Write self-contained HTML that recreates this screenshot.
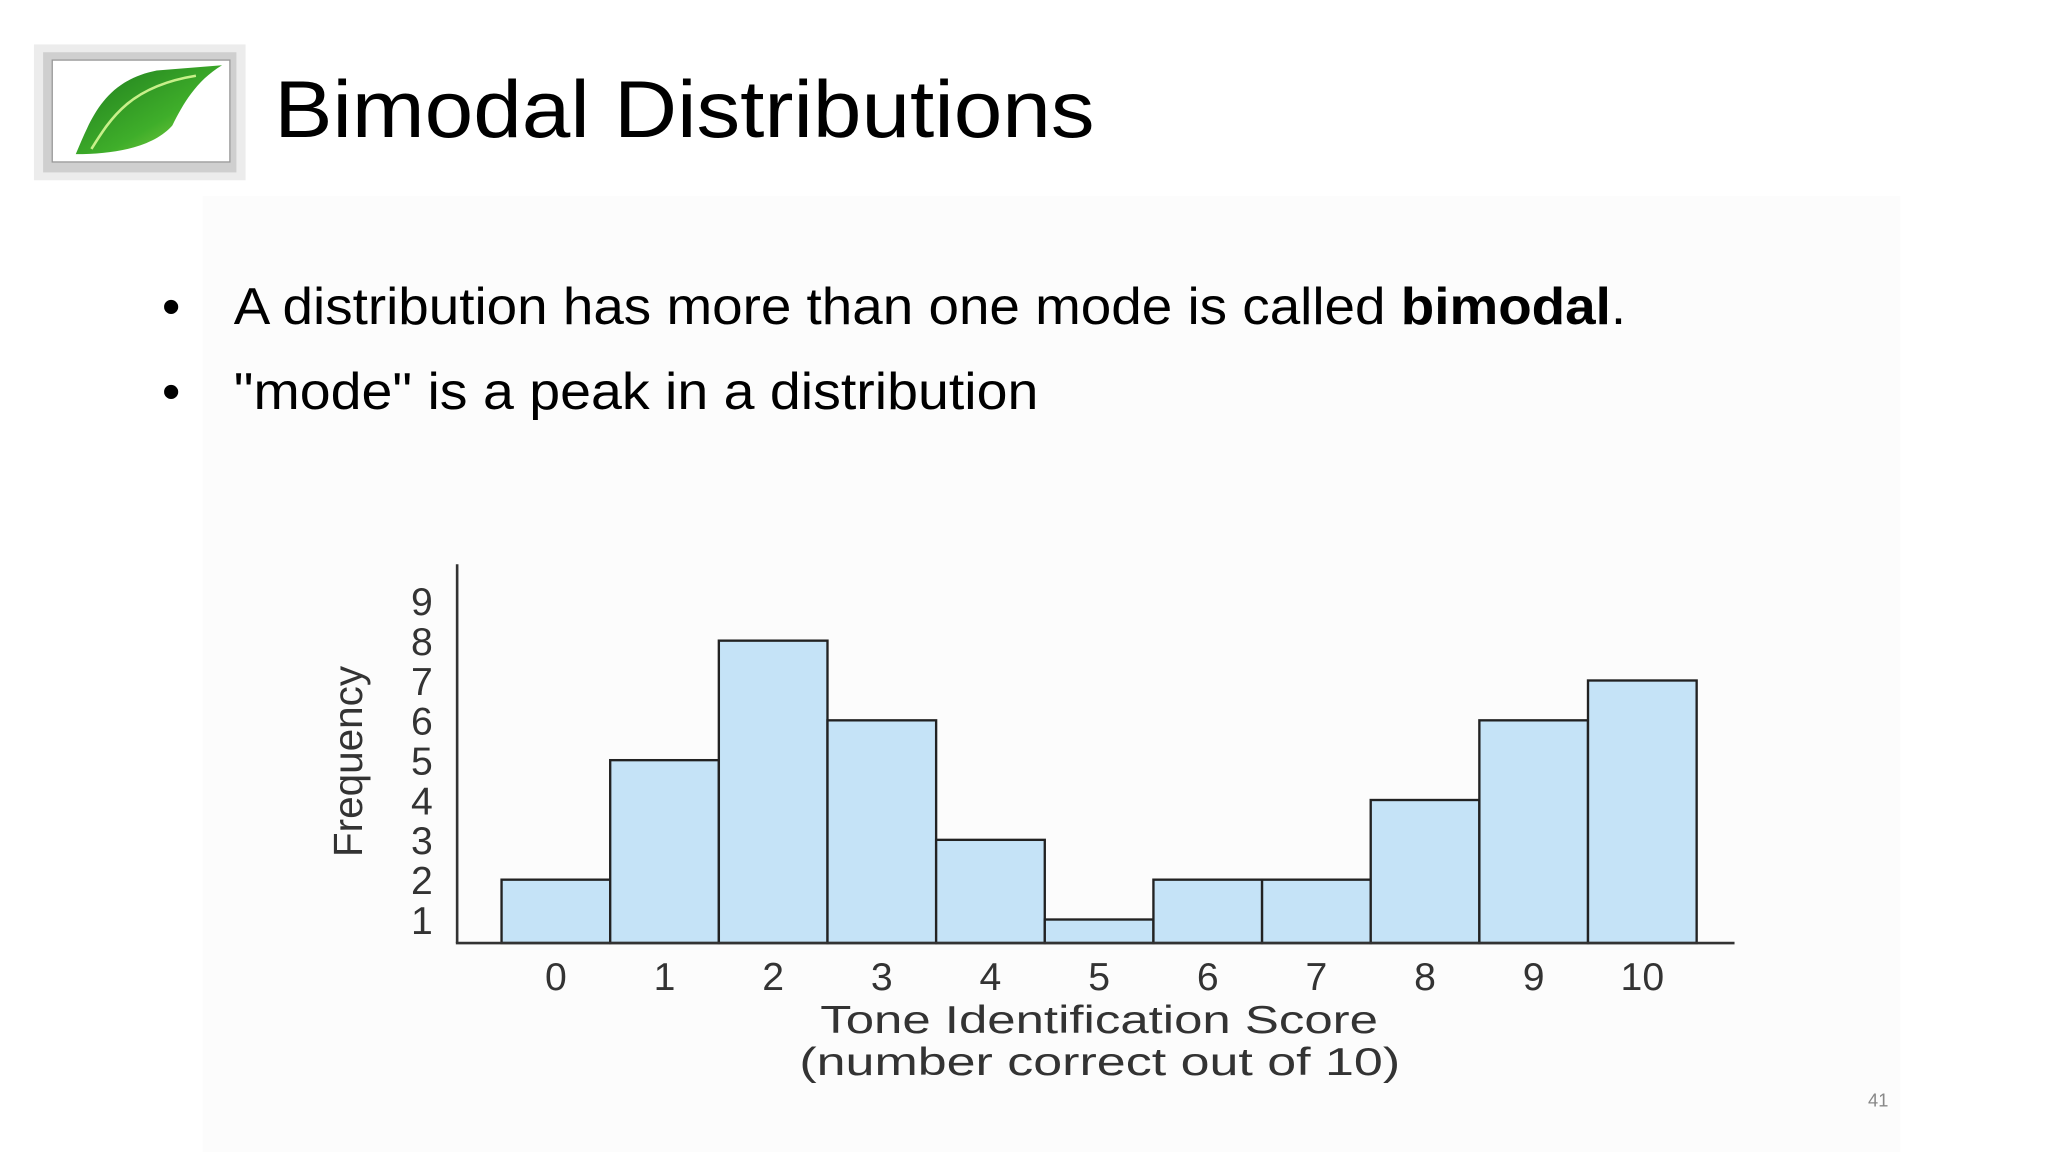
<!DOCTYPE html>
<html><head><meta charset="utf-8"><style>
html,body{margin:0;padding:0;background:#fff;}
svg{display:block;}
text{font-family:"Liberation Sans",sans-serif;}
</style></head><body>
<svg width="2048" height="1152" viewBox="0 0 1568 882" xmlns="http://www.w3.org/2000/svg">
<defs>
<linearGradient id="lg" x1="0" y1="0" x2="1" y2="1"><stop offset="0" stop-color="#1d7a1d"/><stop offset="0.6" stop-color="#3fae2a"/><stop offset="1" stop-color="#9ad94a"/></linearGradient>
</defs>
<rect x="0" y="0" width="1568" height="882" fill="#fff"/>
<rect x="155" y="150" width="1300" height="732" fill="#fcfcfc"/>
<g>
<rect x="26" y="34" width="162" height="104" fill="#ececec"/>
<rect x="33" y="40" width="148" height="92" fill="#cfcfcf"/>
<rect x="40" y="46" width="136" height="78" fill="#fff" stroke="#999" stroke-width="1"/>
<path d="M58,118 C70,90 80,62 120,54 L170,50 C150,62 140,80 132,96 C118,112 90,118 58,118 Z" fill="url(#lg)"/>
<path d="M70,114 C85,90 100,66 150,58" stroke="#c8f08a" stroke-width="2" fill="none"/>
</g>
<text x="210" y="105" font-size="62" fill="#000" textLength="628" lengthAdjust="spacingAndGlyphs">Bimodal Distributions</text>
<g font-size="40" fill="#000">
<text x="124" y="248">•</text>
<text x="179" y="248" textLength="1066" lengthAdjust="spacingAndGlyphs">A distribution has more than one mode is called <tspan font-weight="bold">bimodal</tspan>.</text>
<text x="124" y="313">•</text>
<text x="179" y="313" textLength="616" lengthAdjust="spacingAndGlyphs">"mode" is a peak in a distribution</text>
</g>
<g id="chart"></g>
<text x="1438" y="847" font-size="14" fill="#888" text-anchor="middle">41</text>
</svg>
<script>
const categories = ["0","1","2","3","4","5","6","7","8","9","10"];
const frequencies = [2,5,8,6,3,1,2,2,4,6,7];
const yTicks = [1,2,3,4,5,6,7,8,9];
const NS = "http://www.w3.org/2000/svg";
const g = document.getElementById("chart");
const x0 = 384, x1 = 1299, base = 722;
const bw = (x1 - x0) / categories.length;
function xPos(i){ return x0 + i * bw; }
function yPos(v){ return 734.5 - 30.5 * v; }
function mk(tag, attrs){ const e = document.createElementNS(NS, tag); for (const k in attrs) e.setAttribute(k, attrs[k]); g.appendChild(e); return e; }
categories.forEach((c, i) => {
  const y = yPos(frequencies[i]);
  const r = mk("rect", {x: xPos(i), y: y, width: bw, height: base - y, fill: "#c5e3f7", stroke: "#222", "stroke-width": 1.8});
  
  
  const t = mk("text", {x: xPos(i) + bw / 2, y: 758, "font-size": 30, "text-anchor": "middle", fill: "#333"});
  t.textContent = c;
  
  
});
yTicks.forEach(v => {
  const t = mk("text", {x: 323, y: yPos(v) + 11, "font-size": 30, "text-anchor": "middle", fill: "#333"});
  t.textContent = v;
  
  
});
const ya = mk("line", {x1: 350, y1: 432, x2: 350, y2: base, stroke: "#333", "stroke-width": 2});


const xa = mk("line", {x1: 349, y1: base, x2: 1328, y2: base, stroke: "#333", "stroke-width": 2});


const t1 = mk("text", {x: 628, y: 791, "font-size": 30, fill: "#333", textLength: 427, lengthAdjust: "spacingAndGlyphs"});
t1.textContent = "Tone Identification Score";


const t2 = mk("text", {x: 612, y: 823, "font-size": 30, fill: "#333", textLength: 460, lengthAdjust: "spacingAndGlyphs"});
t2.textContent = "(number correct out of 10)";


const yt = mk("text", {x: 0, y: 0, "font-size": 31, "text-anchor": "middle", fill: "#333", transform: "translate(277,583) rotate(-90)"});
yt.textContent = "Frequency";


</script>
</body></html>
